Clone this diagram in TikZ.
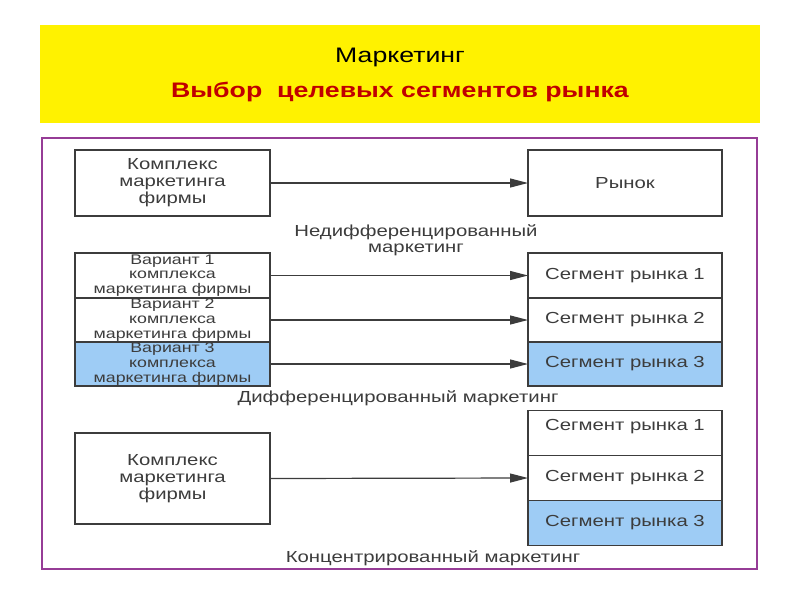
\documentclass[tikz,border=0pt]{standalone}
\usepackage{fontspec}
\setmainfont{Liberation Sans}[FakeStretch=1.27]
\usetikzlibrary{arrows.meta}
\definecolor{ttlred}{RGB}{192,0,0}
\definecolor{framecol}{RGB}{150,60,150}
\definecolor{segblue}{RGB}{158,204,245}
\definecolor{ink}{RGB}{60,60,60}
\begin{document}
\begin{tikzpicture}[x=1pt,y=-1pt,
  box/.style={draw=ink, line width=1.2pt, text=ink, minimum width=195pt,
    inner sep=0pt, outer sep=0pt, align=center,
    font=\fontsize{16}{17}\selectfont},
  varbox/.style={box, font=\fontsize{14}{14.6}\selectfont},
  bluebox/.style={fill=segblue},
  lab/.style={text=ink, align=center, font=\fontsize{16}{16}\selectfont},
  arr/.style={draw=ink, line width=1.2pt, -{Triangle[length=18pt,width=9pt]}}]
\useasboundingbox (0,0) rectangle (800,600);
\fill[yellow] (40,25) rectangle (760,123);
\node (t1) at (400,57) {\fontsize{21}{25}\selectfont Маркетинг};
\node[text=ttlred] (t2) at (400,92) {\fontsize{21}{25}\selectfont\bfseries Выбор\ \ целевых сегментов рынка};
\draw[framecol, line width=2pt] (42,138) rectangle (757,569);
% undifferentiated
\node[box, minimum height=66pt] (k1) at (172.5,183) {Комплекс\\маркетинга\\фирмы};
\node[box, minimum height=66pt, minimum width=194pt] (r) at (625,183) {Рынок};
\draw[arr] (k1.east) -- (r.west);
\node[lab] (l1) at (416,240) {Недифференцированный\\маркетинг};
% differentiated
\node[varbox, minimum height=45pt] (v1) at (172.5,275.5) {Вариант 1\\комплекса\\маркетинга фирмы};
\node[varbox, minimum height=44pt] (v2) at (172.5,320) {Вариант 2\\комплекса\\маркетинга фирмы};
\node[varbox, bluebox, minimum height=44pt] (v3) at (172.5,364) {Вариант 3\\комплекса\\маркетинга фирмы};
\node[box, minimum height=45pt, minimum width=194pt] (s1) at (625,275.5) {Сегмент рынка 1};
\node[box, minimum height=44pt, minimum width=194pt] (s2) at (625,320) {Сегмент рынка 2};
\node[box, bluebox, minimum height=44pt, minimum width=194pt] (s3) at (625,364) {Сегмент рынка 3};
\draw[arr] (v1.east) -- (s1.west);
\draw[arr] (v2.east) -- (s2.west);
\draw[arr] (v3.east) -- (s3.west);
\node[lab] (l2) at (398,398) {Дифференцированный маркетинг};
% concentrated
\node[box, minimum height=91pt] (k3) at (172.5,478.5) {Комплекс\\маркетинга\\фирмы};
\node[box, minimum height=45pt, minimum width=194pt, font=\fontsize{16}{16}\selectfont] (c1) at (625,433) {Сегмент рынка 1\\\mbox{}};
\node[box, minimum height=45pt, minimum width=194pt] (c2) at (625,478) {Сегмент рынка 2};
\node[box, bluebox, minimum height=45pt, minimum width=194pt] (c3) at (625,523) {Сегмент рынка 3};
\draw[arr] (k3.east) -- (c2.west);
\node[lab] (l3) at (433,558) {Концентрированный маркетинг};
\end{tikzpicture}
\end{document}
